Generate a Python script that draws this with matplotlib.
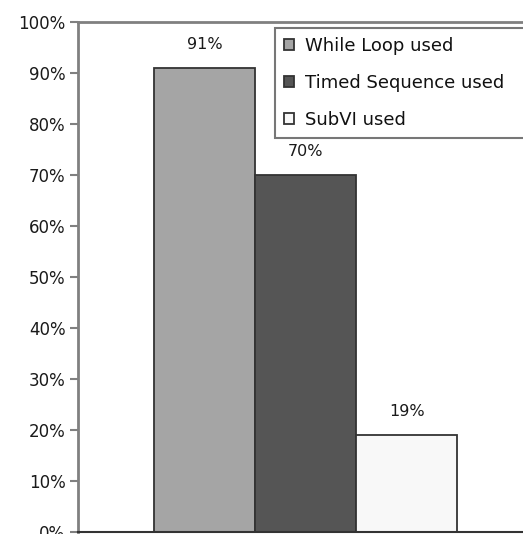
import matplotlib.pyplot as plt
from matplotlib.ticker import PercentFormatter

# === Datos ===
series = ["While Loop used", "Timed Sequence used", "SubVI used"]
valores = [91, 70, 19]
colores = ["#a5a5a5", "#555555", "#f8f8f8"]
ticks_y = list(range(0, 101, 10))

plt.rcParams['font.family'] = ['DejaVu Sans']

fig = plt.figure(figsize=(5.23, 5.34), dpi=100)
# el area de trazado sigue un poco mas alla del borde derecho
ax = fig.add_axes([78 / 523, 2 / 534, 455 / 523, 510 / 534])

for i, (nombre, v, c) in enumerate(zip(series, valores, colores)):
    ax.bar(i, v, width=1.0, color=c, edgecolor="#333333", linewidth=1.3,
           label=nombre, zorder=2)
    ax.text(i, v + 4.6, f"{v}%", ha="center", va="center",
            fontsize=11.5, color="#1a1a1a")

ax.set_xlim(-1.25, 3.25)
ax.set_ylim(0, 100)
ax.set_yticks(ticks_y)
ax.yaxis.set_major_formatter(PercentFormatter(decimals=0))
ax.set_xticks([])

ax.tick_params(axis="y", direction="out", length=6, width=1.5,
               color="#808080", labelsize=12, labelcolor="#1a1a1a", pad=3)

for lado in ["left", "top", "right"]:
    ax.spines[lado].set_color("#808080")
    ax.spines[lado].set_linewidth(2)
ax.spines["bottom"].set_color("#333333")
ax.spines["bottom"].set_linewidth(1.5)

# la leyenda tambien se sale por la derecha
x0, y0 = 275 / 523, 1 - 28 / 534
leg = fig.legend(loc="upper left", bbox_to_anchor=(x0, y0 - 0.2, 300 / 523, 0.2),
                 mode="expand", fontsize=13, frameon=True, fancybox=False,
                 handlelength=0.55, handleheight=0.55, handletextpad=0.6,
                 labelspacing=1.05, borderpad=0.5, borderaxespad=0)
leg.get_frame().set_edgecolor("#555555")
leg.get_frame().set_linewidth(1.5)
for t in leg.get_texts():
    t.set_color("#111111")

fig.savefig("out.png", dpi=100)
